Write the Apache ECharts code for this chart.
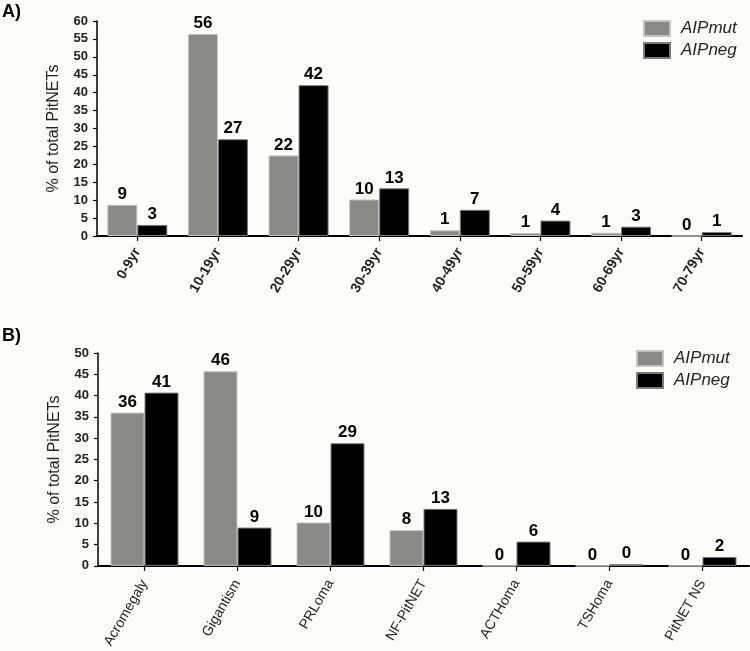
<!DOCTYPE html>
<html>
<head>
<meta charset="utf-8">
<script src="https://cdn.jsdelivr.net/npm/echarts@6/dist/echarts.min.js"></script>
<style>
html,body{margin:0;padding:0;background:#fdfdf8;}
#chart{width:750px;height:651px;}
</style>
</head>
<body>
<div id="chart"></div>
<script>
// Panel A: age groups
var ageCategories = ['0-9yr','10-19yr','20-29yr','30-39yr','40-49yr','50-59yr','60-69yr','70-79yr'];
var ageMut = [8.7, 56.4, 22.5, 10.2, 1.6, 0.85, 0.9, 0];
var ageNeg = [3.1, 27.0, 42.1, 13.3, 7.3, 4.3, 2.6, 1.1];
var ageMutLabels = [9, 56, 22, 10, 1, 1, 1, 0];
var ageNegLabels = [3, 27, 42, 13, 7, 4, 3, 1];

// Panel B: tumour types
var typeCategories = ['Acromegaly','Gigantism','PRLoma','NF-PitNET','ACTHoma','TSHoma','PitNET NS'];
var typeMut = [36.0, 45.7, 10.2, 8.4, 0, 0, 0];
var typeNeg = [40.7, 9.0, 28.8, 13.4, 5.7, 0.4, 2.1];
var typeMutLabels = [36, 46, 10, 8, 0, 0, 0];
var typeNegLabels = [41, 9, 29, 13, 6, 0, 2];

var yTicksA = {min: 0, max: 60, interval: 5};
var yTicksB = {min: 0, max: 50, interval: 5};
var seriesNames = ['AIPmut', 'AIPneg'];

var GRAY = '#8a8a85', BLACK = '#000000';
var FONT = 'Liberation Sans, Arial, sans-serif';

function valueAxis(gi, t) {
  return {
    type: 'value', gridIndex: gi, min: t.min, max: t.max, interval: t.interval,
    name: '% of total PitNETs', nameLocation: 'middle', nameRotate: 90, nameGap: 35,
    nameTextStyle: {fontSize: 16, color: '#222', fontFamily: FONT},
    splitLine: {show: false},
    axisLine: {show: true, lineStyle: {color: '#000', width: 1.5}},
    axisTick: {show: true, length: 4, lineStyle: {color: '#000', width: 1.2}},
    axisLabel: {fontSize: 13, fontWeight: 'bold', color: '#222', margin: 9, fontFamily: FONT}
  };
}
function catAxis(gi, cats, fs, fw, margin) {
  return {
    type: 'category', gridIndex: gi, data: cats,
    axisLine: {lineStyle: {color: '#000', width: 2}},
    axisTick: {show: true, alignWithLabel: true, length: 5, lineStyle: {color: '#000', width: 1.2}},
    axisLabel: {rotate: 60, fontSize: fs, fontWeight: fw, color: '#222', margin: margin, interval: 0, fontFamily: FONT}
  };
}
function barSeries(name, gi, data, labels, color, border, bw) {
  return {
    type: 'bar', name: name, xAxisIndex: gi, yAxisIndex: gi, data: data,
    barWidth: bw, barGap: '0%',
    itemStyle: {color: color, borderColor: border, borderWidth: 1},
    label: {
      show: true, position: 'top', distance: 2,
      fontSize: 17, fontWeight: 'bold', color: '#000', fontFamily: FONT,
      formatter: function (p) { return String(labels[p.dataIndex]); }
    }
  };
}

var chart = echarts.init(document.getElementById('chart'));
chart.setOption({
  backgroundColor: '#fdfdf8',
  animation: false,
  title: [
    {text: 'A)', left: 2, top: 3, padding: 0, textStyle: {fontSize: 18, fontWeight: 'bold', color: '#000', fontFamily: FONT}},
    {text: 'B)', left: 2, top: 327, padding: 0, textStyle: {fontSize: 18, fontWeight: 'bold', color: '#000', fontFamily: FONT}}
  ],
  legend: [
    {data: seriesNames, orient: 'vertical', left: 643, top: 20, padding: 0, itemWidth: 26, itemHeight: 15, itemGap: 5,
     icon: 'rect', textStyle: {fontSize: 17, fontStyle: 'italic', color: '#222', fontFamily: FONT, padding: [0, 0, 0, 6]}},
    {data: seriesNames, orient: 'vertical', left: 636, top: 350, padding: 0, itemWidth: 26, itemHeight: 15, itemGap: 5,
     icon: 'rect', textStyle: {fontSize: 17, fontStyle: 'italic', color: '#222', fontFamily: FONT, padding: [0, 0, 0, 6]}}
  ],
  grid: [
    {left: 97, right: 8, top: 21, height: 215},
    {left: 98, right: 1, top: 353, height: 215}
  ],
  xAxis: [
    catAxis(0, ageCategories, 14, 'bold', 13),
    catAxis(1, typeCategories, 14, 'normal', 15)
  ],
  yAxis: [valueAxis(0, yTicksA), valueAxis(1, yTicksB)],
  series: [
    barSeries(seriesNames[0], 0, ageMut, ageMutLabels, GRAY, '#c4c4bc', 30),
    barSeries(seriesNames[1], 0, ageNeg, ageNegLabels, BLACK, '#7a7a7a', 30),
    barSeries(seriesNames[0], 1, typeMut, typeMutLabels, GRAY, '#c4c4bc', 34),
    barSeries(seriesNames[1], 1, typeNeg, typeNegLabels, BLACK, '#7a7a7a', 34)
  ]
});
</script>
</body>
</html>
